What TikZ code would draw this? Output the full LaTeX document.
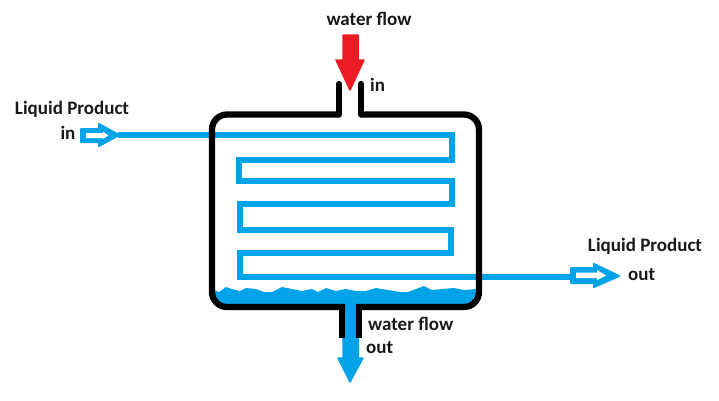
\documentclass[tikz,border=0pt]{standalone}
\usepackage{fontspec}
\setmainfont{Carlito}
\definecolor{pipeblue}{HTML}{00A2E8}
\definecolor{flowred}{HTML}{ED1C24}
\tikzset{
  x=1pt,y=-1pt,
  wall/.style={draw=black,line width=6.3pt,line cap=round},
  pipe/.style={draw=pipeblue,line width=6.7pt,line join=miter},
  lbl/.style={font=\fontsize{19}{21}\bfseries\selectfont,text=black!90,inner sep=0pt},
  bigblue/.style={fill=pipeblue,draw=pipeblue,line width=1.5pt,line join=round},
  bigred/.style={fill=flowred,draw=flowred,line width=1.5pt,line join=round},
  smallarrow/.style={draw=pipeblue,fill=pipeblue,line width=2pt,line join=round},
  inner/.style={fill=white,draw=none}
}
\begin{document}
\begin{tikzpicture}
\useasboundingbox (0,0) rectangle (719,400);
% water pool
\fill[pipeblue] (214,290) -- (219,292) -- (226,287) -- (232,289) -- (240,291) -- (246,288) -- (256,289) -- (264,292) -- (272,292) -- (282,287) -- (292,289) -- (302,291) -- (312,289) -- (318,292) -- (326,288) -- (336,291) -- (346,289) -- (356,291) -- (366,291) -- (376,288) -- (388,290) -- (400,292) -- (408,292) -- (416,289) -- (424,286) -- (432,290) -- (442,289) -- (454,288) -- (464,290) -- (476,289) -- (477,298) -- (470,306) -- (222,306) -- (215,298) -- cycle;
% outlet jet
\filldraw[bigblue] (343,300) -- (358,300) -- (358,358) -- (363,358) -- (350,382) -- (338,358) -- (343,358) -- cycle;
% coil
\coordinate (inlet) at (118,135);
\coordinate (outlet) at (572,277);
\draw[pipe] (inlet) -- (452,135) -- (452,160) -- (239,160) -- (239,181) -- (452,181) -- (452,204) -- (240,204) -- (240,230) -- (451,230) -- (451,253) -- (240,253) -- (240,277) -- (outlet);
% vessel
\draw[wall,line cap=butt,rounded corners=15pt] (339,114.5) -- (212,114.5) -- (212,307) -- (345,307);
\draw[wall,line cap=butt,rounded corners=15pt] (361,114.5) -- (479,114.5) -- (479,307) -- (356,307);
\draw[wall] (339,114.5) -- (339,84);
\draw[wall] (361,114.5) -- (361,84);
\draw[wall,line cap=butt] (342,304) -- (342,338);
\draw[wall,line cap=butt] (359,304) -- (359,338);
% red arrow
\filldraw[bigred] (343,35) -- (358,35) -- (358,60) -- (364,60) -- (350,90) -- (336,60) -- (343,60) -- cycle;
% small arrows
\filldraw[smallarrow] (81,129) -- (99,129) -- (99,124) -- (119,135) -- (99,146) -- (99,142) -- (81,142) -- cycle;
\fill[inner] (86,133) -- (103,133) -- (103,131.5) -- (108.5,135.5) -- (103,139) -- (103,138) -- (86,138) -- cycle;
\filldraw[smallarrow] (571,268) -- (594,268) -- (594,264) -- (619,276) -- (594,287) -- (594,283) -- (571,283) -- cycle;
\fill[inner] (576,272.5) -- (597,272.5) -- (597,270) -- (606,275.5) -- (597,280) -- (597,278) -- (576,278) -- cycle;
% labels
\node[lbl,anchor=center] (wfin) at (369,19) {water flow};
\node[lbl,anchor=west] (in1) at (370,85) {in};
\node[lbl,anchor=center] (lpin) at (72,109) {Liquid Product};
\node[lbl,anchor=center] (in2) at (68,133) {in};
\node[lbl,anchor=center] (lpout) at (645,246) {Liquid Product};
\node[lbl,anchor=west] (outr) at (628,275) {out};
\node[lbl,anchor=west] (wfout) at (368,324) {water flow};
\node[lbl,anchor=west] (outb) at (366,348) {out};
\end{tikzpicture}
\end{document}
